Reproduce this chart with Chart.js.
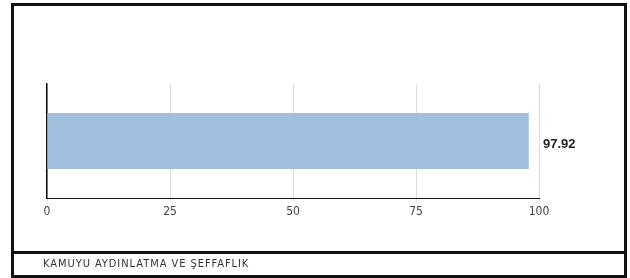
<!DOCTYPE html>
<html>
<head>
<meta charset="utf-8">
<script src="https://cdn.jsdelivr.net/npm/chart.js@4"></script>
<style>
    body { margin: 0; background: #fff; }
    #wrap { position: relative; width: 630px; height: 278px; }
    #chart { position: absolute; left: 0; top: 0; }
    .box { position: absolute; box-sizing: border-box; border: 3px solid #111; pointer-events: none; }
    #footer-text {
        position: absolute; left: 43px; top: 257px;
        font: 11px 'DejaVu Sans Condensed', 'Liberation Sans', Arial, sans-serif; color: #333;
        letter-spacing: 0.95px;
    }
</style>
</head>
<body>
<div id="wrap">
    <canvas id="chart" width="630" height="278"></canvas>
    <div class="box" style="left:11px; top:3px; width:616px; height:251px;"></div>
    <div class="box" style="left:11px; top:251px; width:616px; height:27px;"></div>
    <div id="footer-text">KAMUYU AYDINLATMA VE ŞEFFAFLIK</div>
</div>
<script>
// Data
const categories = ['KAMUYU AYDINLATMA VE ŞEFFAFLIK'];
const scores = [97.92];
const xTicks = [0, 25, 50, 75, 100];

// Value label at the end of the bar
const valueLabels = {
    id: 'valueLabels',
    afterDatasetsDraw(chart) {
        const ctx = chart.ctx;
        const meta = chart.getDatasetMeta(0);
        ctx.save();
        ctx.font = 'bold 13px "Liberation Sans", Arial, sans-serif';
        ctx.fillStyle = '#222';
        ctx.textBaseline = 'middle';
        meta.data.forEach((bar, i) => {
            ctx.fillText(scores[i].toFixed(2), chart.chartArea.right + 4, bar.y + 3);
        });
        ctx.restore();
    }
};

new Chart(document.getElementById('chart').getContext('2d'), {
    type: 'bar',
    data: {
        labels: categories,
        datasets: [{
            data: scores,
            backgroundColor: '#a1c0e0',
            borderWidth: 0,
            categoryPercentage: 1,
            barPercentage: 0.49
        }]
    },
    options: {
        indexAxis: 'y',
        responsive: false,
        animation: false,
        layout: { padding: { left: 47, right: 91, top: 84, bottom: 58 } },
        plugins: {
            legend: { display: false },
            tooltip: { enabled: false }
        },
        scales: {
            x: {
                min: 0,
                max: 100,
                afterBuildTicks: s => { s.ticks = xTicks.map(v => ({ value: v })); },
                afterFit: s => { s.height = 22; },
                grid: { color: '#dcdcdc', lineWidth: 1, tickLength: 3 },
                border: { color: '#111', width: 1 },
                ticks: {
                    color: '#444',
                    padding: 4,
                    font: { family: "'DejaVu Sans Condensed', 'Liberation Sans', Arial, sans-serif", size: 12 }
                }
            },
            y: {
                afterFit: s => { s.width = 0; },
                grid: { display: false },
                border: { color: '#111', width: 1.5 },
                ticks: { display: false }
            }
        }
    },
    plugins: [valueLabels]
});
</script>
</body>
</html>
